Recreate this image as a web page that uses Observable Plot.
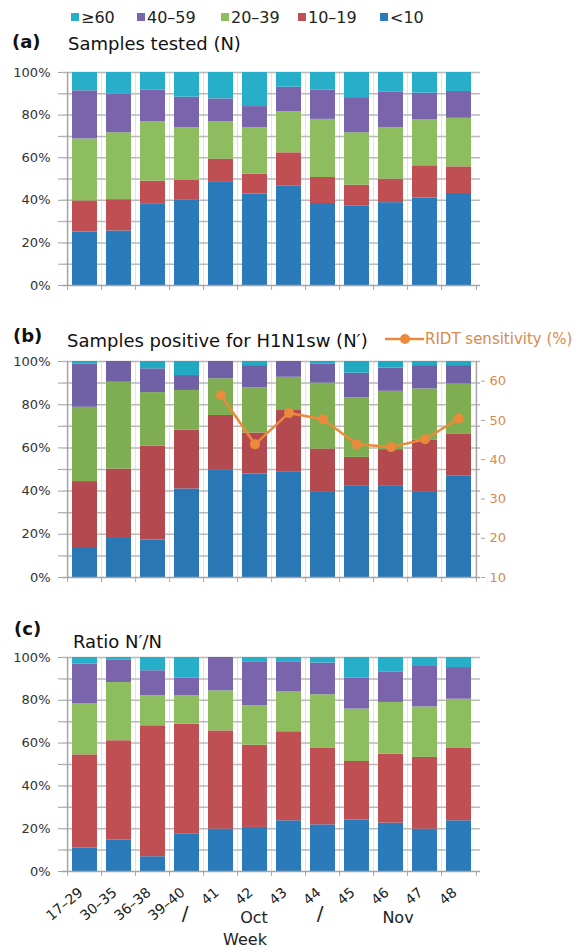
<!DOCTYPE html>
<html><head><meta charset="utf-8">
<script src="https://cdn.jsdelivr.net/npm/d3@7"></script>
<script src="https://cdn.jsdelivr.net/npm/@observablehq/plot@0.6"></script>
<style>
html,body{margin:0;padding:0;background:#fff;}
#fig{position:relative;width:579px;height:952px;overflow:hidden;font-family:"DejaVu Sans",sans-serif;}
#fig .panel{position:absolute;left:0;}
#overlay{position:absolute;left:0;top:0;pointer-events:none;}
</style></head><body>
<div id="fig"></div>
<script>
// ---------- data ----------
const weeks = ["17–29","30–35","36–38","39–40","41","42","43","44","45","46","47","48"];
const ageGroups = ["<10","10–19","20–39","40–59","≥60"];
const ageColors = ["#2b7bba","#bf4f52","#8dbd5f","#7a65ad","#27aec8"];
const ageColorsB = ["#2a77b5","#b34a4f","#7fae52","#7060a6","#22a9c2"];
const legendOrder = ["≥60","40–59","20–39","10–19","<10"];

// (a) Samples tested (N): share of each age group (%)
const testedLt10   = [25.1,25.6,38.1,40.0,48.4,42.9,46.6,38.5,37.2,38.9,41.1,43.2];
const tested10_19  = [14.6,14.7,10.9,9.5,10.9,9.4,15.7,12.2,9.9,11.0,15.1,12.5];
const tested20_39  = [29.1,31.4,27.9,24.6,17.6,21.8,19.3,27.3,24.6,24.2,21.5,22.8];
const tested40_59  = [22.6,18.1,14.9,14.3,10.7,9.9,11.5,13.8,16.5,16.6,12.6,12.6];
const tested60plus = [8.6,10.2,8.2,11.6,12.4,16.0,6.9,8.2,11.8,9.3,9.7,8.9];

// (b) Samples positive for H1N1sw (N')
const positiveLt10   = [13.9,18.5,17.3,41.0,49.9,47.9,48.7,39.4,42.5,42.2,39.4,47.1];
const positive10_19  = [30.5,31.7,43.6,27.3,25.1,19.0,28.6,20.1,13.1,17.0,24.3,19.4];
const positive20_39  = [34.4,40.2,24.7,18.3,17.0,20.9,15.4,30.5,27.6,27.0,23.6,23.1];
const positive40_59  = [20.1,9.6,11.0,6.9,8.0,10.3,7.3,8.9,11.4,10.7,10.8,8.5];
const positive60plus = [1.1,0,3.4,6.5,0,1.9,0,1.1,5.4,3.1,1.9,1.9];

// RIDT sensitivity (%) – right axis of panel (b)
const ridtWeeks = ["41","42","43","44","45","46","47","48"];
const ridtSensitivity = [56.4,43.9,51.9,50.3,43.9,43.2,45.2,50.5];
const ridtTicks = [10,20,30,40,50,60];
const ridtDomain = [10,65];

// (c) Ratio N'/N
const ratioLt10   = [10.9,14.8,6.9,17.4,19.8,20.6,23.7,21.8,24.1,22.6,19.8,23.7];
const ratio10_19  = [43.6,46.3,61.2,51.4,45.9,38.4,41.6,35.7,27.3,32.2,33.5,33.8];
const ratio20_39  = [24.0,27.2,14.0,13.3,18.7,18.4,18.8,25.1,24.5,24.2,23.6,23.0];
const ratio40_59  = [18.4,10.6,11.7,8.2,15.6,20.6,13.9,14.8,14.4,14.3,18.9,14.8];
const ratio60plus = [3.1,1.1,6.2,9.7,0,2.0,2.0,2.6,9.7,6.7,4.2,4.7];

const percentTicks = [0,20,40,60,80,100];
const monthLabels = ["/","Oct","/","Nov"];
const monthAnchorWeeks = ["39–40","42","44","46"];
const axisTitle = "Week";
const axisTitleWeek = "42";

// ---------- layout / style ----------
const W = 579, ML = 62, MR = 99;
const step = (W - ML - MR) / weeks.length;
const monthDx = [-2, -1, -3, 7];
const monthDy = [48, 51, 48, 51];
const monthSize = [20, 16, 20, 16];
const FONT = '"DejaVu Sans", sans-serif';
const gridColor = "#b9b9b9", axisColor = "#a4a4a4", vGridColor = "#e2e2e2";
const orange = "#ea8a3a", orangeText = "#d98a4c";

function toRows(series) {
  return ageGroups.flatMap((g, gi) => weeks.map((w, wi) => ({week: w, group: g, value: series[gi][wi]})));
}
const toPct = v => (v - ridtDomain[0]) / (ridtDomain[1] - ridtDomain[0]) * 100;
const fromPct = p => ridtDomain[0] + p / 100 * (ridtDomain[1] - ridtDomain[0]);

function panel({series, top, plotH, marginBottom = 10, colors = ageColors, extra = []}) {
  const chart = Plot.plot({
    width: W, height: 10 + plotH + marginBottom,
    marginLeft: ML, marginRight: MR, marginTop: 10, marginBottom,
    style: {fontFamily: FONT, fontSize: "13px", color: "#333", background: "transparent", overflow: "visible"},
    x: {domain: weeks, padding: 0.27, label: null, axis: null},
    y: {domain: [0, 100], label: null, axis: null},
    color: {domain: ageGroups, range: colors},
    marks: [
      Plot.ruleX(weeks.slice(1), {dx: -step / 2, stroke: vGridColor, strokeWidth: 1}),
      Plot.gridY(d3.range(10, 101, 10), {stroke: gridColor, strokeOpacity: 1, strokeWidth: 1.5}),
      Plot.barY(toRows(series), {x: "week", y: "value", fill: "group"}),
      Plot.ruleX(weeks.slice(0, 1), {dx: -step / 2, stroke: axisColor, strokeWidth: 1.5}),
      Plot.ruleY([0], {stroke: axisColor, strokeWidth: 1.5}),
      Plot.axisY(d3.range(0, 101, 10), {anchor: "left", tickSize: 4, fill: "none", stroke: axisColor, label: null}),
      Plot.axisY(percentTicks, {anchor: "left", tickSize: 0, tickPadding: 12, tickFormat: d => d + "%", fill: "#333", fontSize: 13, label: null}),
      Plot.axisX(weeks, {anchor: "bottom", tickSize: 5, dx: -step / 2, fill: "none", stroke: axisColor, label: null}),
      Plot.axisX(weeks.slice(-1), {anchor: "bottom", tickSize: 5, dx: step / 2, fill: "none", stroke: axisColor, label: null}),
      ...extra
    ]
  });
  const div = document.createElement("div");
  div.className = "panel";
  div.style.top = top + "px";
  div.appendChild(chart);
  document.getElementById("fig").appendChild(div);
}

// (a)
panel({series: [testedLt10, tested10_19, tested20_39, tested40_59, tested60plus], top: 62, plotH: 213});

// (b)
const ridtRows = ridtWeeks.map((w, i) => ({week: w, v: ridtSensitivity[i]}));
panel({
  series: [positiveLt10, positive10_19, positive20_39, positive40_59, positive60plus],
  top: 351, plotH: 216, colors: ageColorsB,
  extra: [
    Plot.ruleX(weeks.slice(-1), {dx: step / 2, stroke: axisColor, strokeWidth: 1.5}),
    Plot.axisY(ridtTicks.map(toPct), {anchor: "right", tickSize: 4, fill: "none", stroke: axisColor, label: null}),
    Plot.axisY(ridtTicks.map(toPct), {anchor: "right", tickSize: 0, tickPadding: 9, tickFormat: d => Math.round(fromPct(d)), fill: orangeText, fontSize: 13, label: null}),
    Plot.line(ridtRows, {x: "week", y: d => toPct(d.v), stroke: orange, strokeWidth: 2.5}),
    Plot.dot(ridtRows, {x: "week", y: d => toPct(d.v), r: 5, fill: orange, stroke: "none"})
  ]
});

// (c)
panel({
  series: [ratioLt10, ratio10_19, ratio20_39, ratio40_59, ratio60plus],
  top: 647, plotH: 214, marginBottom: 81,
  extra: [
    Plot.axisX(weeks, {anchor: "bottom", tickSize: 0, tickPadding: 19, tickRotate: -40, dx: -4, fill: "#222", fontSize: 14, label: null}),
    ...monthLabels.map((t, i) => Plot.text([t], {x: [monthAnchorWeeks[i]], frameAnchor: "bottom", dy: monthDy[i], dx: monthDx[i], fontSize: monthSize[i], fill: "#222"})),
    Plot.text([axisTitle], {x: [axisTitleWeek], frameAnchor: "bottom", dy: 73, dx: -10, fontSize: 16, fill: "#222"})
  ]
});

// ---------- overlay: legend and panel titles ----------
const ov = d3.select("#fig").append("svg").attr("id", "overlay").attr("width", W).attr("height", 952)
  .style("font-family", FONT);
const legendX = [71, 137, 221, 298, 380];
legendOrder.forEach((g, i) => {
  ov.append("rect").attr("x", legendX[i]).attr("y", 13).attr("width", 8).attr("height", 8)
    .attr("fill", ageColors[ageGroups.indexOf(g)]);
  ov.append("text").attr("x", legendX[i] + 10).attr("y", 23).attr("font-size", 16).attr("fill", "#222").text(g);
});
const titles = [
  {tag: "(a)", title: "Samples tested (N)", tagX: 12, tagY: 48, x: 68, y: 50},
  {tag: "(b)", title: "Samples positive for H1N1sw (N′)", tagX: 13, tagY: 342, x: 67, y: 347},
  {tag: "(c)", title: "Ratio N′/N", tagX: 14, tagY: 635, x: 73, y: 648}
];
titles.forEach(t => {
  ov.append("text").attr("x", t.tagX).attr("y", t.tagY).attr("font-size", 18).attr("font-weight", "bold").attr("fill", "#111").text(t.tag);
  ov.append("text").attr("x", t.x).attr("y", t.y).attr("font-size", 18).attr("fill", "#111").text(t.title);
});
// RIDT legend
ov.append("line").attr("x1", 385).attr("x2", 424).attr("y1", 339).attr("y2", 339).attr("stroke", orange).attr("stroke-width", 2.5);
ov.append("circle").attr("cx", 405).attr("cy", 339).attr("r", 5).attr("fill", orange);
ov.append("text").attr("x", 425).attr("y", 344).attr("font-size", 15).attr("fill", orangeText).text("RIDT sensitivity (%)");
</script>
</body></html>
